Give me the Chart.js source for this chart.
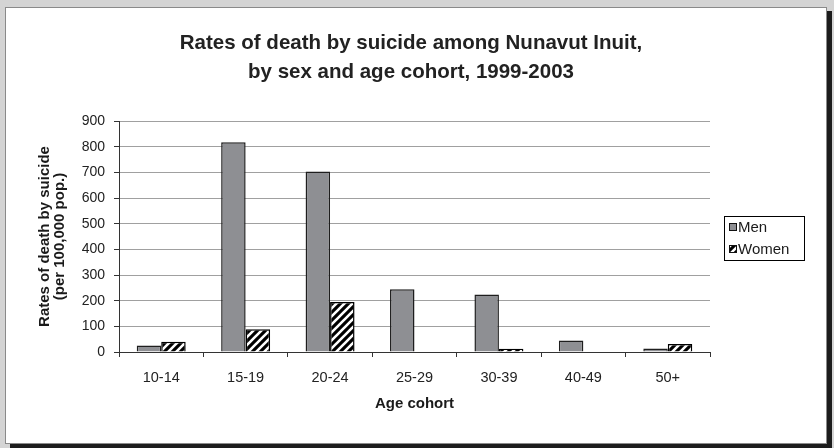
<!DOCTYPE html>
<html>
<head>
<meta charset="utf-8">
<script src="https://cdn.jsdelivr.net/npm/chart.js@4"></script>
<style>
  html, body { margin: 0; padding: 0; }
  body { width: 834px; height: 448px; background: #d4d4d4; position: relative; overflow: hidden; }
  #panel { position: absolute; left: 5px; top: 7px; width: 820px; height: 435px; background: #fff; border: 1px solid #8a8a8a; box-shadow: 5px 4px 0 #1c1c1c; }
  #c { position: absolute; left: 0; top: 0; }
</style>
</head>
<body>
<div id="panel"></div>
<canvas id="c" width="834" height="448"></canvas>
<script>
// ---- data ----
const titleLines = ['Rates of death by suicide among Nunavut Inuit,', 'by sex and age cohort, 1999-2003'];
const categories = ['10-14', '15-19', '20-24', '25-29', '30-39', '40-49', '50+'];
const seriesNames = ['Men', 'Women'];
const menValues = [25, 817, 703, 244, 224, 45, 14];
const womenValues = [40, 89, 195, 0, 13, 0, 31];
const yAxisTitle = ['Rates of death by suicide', '(per 100,000 pop.)'];
const xAxisTitle = 'Age cohort';
const yMin = 0, yMax = 900, yStep = 100;

const FONT = 'Arial, "Liberation Sans", sans-serif';
const canvas = document.getElementById('c');
const ctx = canvas.getContext('2d');

function makeHatch() {
  const s = 8;
  const p = document.createElement('canvas');
  p.width = s; p.height = s;
  const g = p.getContext('2d');
  g.fillStyle = '#000';
  g.fillRect(0, 0, s, s);
  g.strokeStyle = '#fff';
  g.lineWidth = 2.6;
  g.beginPath();
  g.moveTo(-1, s + 1); g.lineTo(s + 1, -1);
  g.moveTo(-1, 1); g.lineTo(1, -1);
  g.moveTo(s - 1, s + 1); g.lineTo(s + 1, s - 1);
  g.stroke();
  return ctx.createPattern(p, 'repeat');
}
const hatch = makeHatch();

const titlePlugin = {
  id: 'twoLineTitle',
  afterDraw(chart) {
    const c = chart.ctx;
    c.save();
    c.fillStyle = '#222';
    c.font = 'bold 20.5px ' + FONT;
    c.textAlign = 'center';
    c.textBaseline = 'middle';
    titleLines.forEach((t, i) => c.fillText(t, 411, 43 + i * 29));
    c.restore();
  }
};

const boxLegend = {
  id: 'boxLegend',
  afterDraw(chart) {
    const c = chart.ctx;
    const x0 = chart.chartArea.right + 14;
    const y0 = 216;
    const w = 80, rowH = 22;
    const h = rowH * chart.data.datasets.length;
    c.save();
    c.fillStyle = '#fff';
    c.fillRect(x0, y0, w, h);
    c.strokeStyle = '#000';
    c.lineWidth = 1;
    c.strokeRect(x0 + 0.5, y0 + 0.5, w, h);
    c.font = '15px ' + FONT;
    c.textBaseline = 'middle';
    c.textAlign = 'left';
    chart.data.datasets.forEach((ds, i) => {
      const cy = y0 + 11 + i * rowH;
      c.fillStyle = ds.backgroundColor;
      c.fillRect(x0 + 5, cy - 4, 8, 8);
      c.strokeStyle = '#111';
      c.strokeRect(x0 + 5.5, cy - 3.5, 7, 7);
      c.fillStyle = '#1a1a1a';
      c.fillText(ds.label, x0 + 14, cy + 1);
    });
    c.restore();
  }
};

new Chart(ctx, {
  type: 'bar',
  data: {
    labels: categories,
    datasets: [
      { label: seriesNames[0], data: menValues, backgroundColor: '#8e8f93', borderColor: '#1e1e1e', borderWidth: 1.5 },
      { label: seriesNames[1], data: womenValues, backgroundColor: hatch, borderColor: '#000', borderWidth: 1.5 }
    ]
  },
  options: {
    responsive: false,
    devicePixelRatio: 1,
    animation: false,
    categoryPercentage: 0.58,
    barPercentage: 1.0,
    layout: { padding: { top: 121, right: 124, left: 0, bottom: 0 } },
    plugins: {
      legend: { display: false },
      title: { display: false },
      tooltip: { enabled: false }
    },
    scales: {
      x: {
        grid: { display: true, drawOnChartArea: false, drawTicks: true, tickLength: 5, tickColor: '#333', offset: true },
        border: { display: true, color: '#333', width: 1 },
        ticks: { color: '#222', font: { family: FONT, size: 14.5 }, padding: 12 },
        title: { display: true, text: xAxisTitle, color: '#1a1a1a', font: { family: FONT, size: 15, weight: 'bold', lineHeight: 1.2 }, padding: { top: 0, bottom: 35 } },
        afterFit(scale) { scale.height = 96; }
      },
      y: {
        min: yMin, max: yMax,
        ticks: { stepSize: yStep, color: '#222', font: { family: FONT, size: 14 }, padding: 9 },
        grid: { color: '#a0a0a0', lineWidth: 1, tickLength: 5, tickColor: '#333' },
        border: { display: true, color: '#333', width: 1 },
        title: { display: true, text: yAxisTitle, color: '#1a1a1a', font: { family: FONT, size: 15, weight: 'bold', lineHeight: 1.0 }, padding: { top: 37.5 } },
        afterFit(scale) { scale.width = 119; }
      }
    }
  },
  plugins: [titlePlugin, boxLegend]
});
</script>
</body>
</html>
